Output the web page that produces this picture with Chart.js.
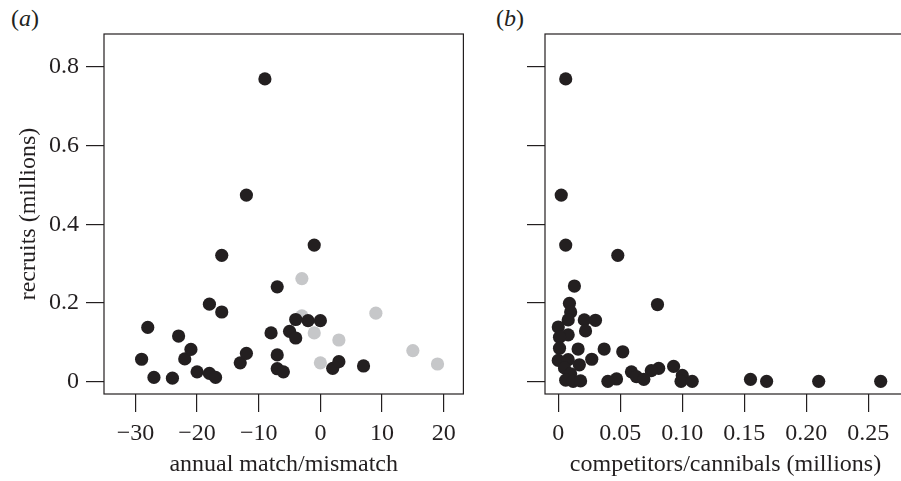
<!DOCTYPE html>
<html>
<head>
<meta charset="utf-8">
<script src="https://cdn.jsdelivr.net/npm/chart.js@4"></script>
<style>
    body { margin: 0; background: #fff; overflow: hidden; width: 901px; height: 481px; position: relative; }
    canvas { position: absolute; top: 0; }
    #chartA { left: 0; }
    #chartB { left: 470px; }
    .panel-label { position: absolute; top: 5px; font: 24px 'Liberation Serif', serif; color: #231f20; }
</style>
</head>
<body>
<div class="panel-label" style="left:11px">(<i>a</i>)</div>
<div class="panel-label" style="left:496px">(<i>b</i>)</div>
<canvas id="chartA" width="470" height="481"></canvas>
<canvas id="chartB" width="470" height="481"></canvas>
<script>
// (a) recruits against annual match/mismatch
const matchBlack = [-29, -28, -27, -24, -23, -22, -21, -20, -18, -18, -17, -16, -16, -13, -12, -12, -9, -8, -7, -7, -7, -6, -5, -4, -4, -2, -1, 0, 2, 3, 7];
const recruitsBlack = [0.057, 0.138, 0.011, 0.009, 0.116, 0.058, 0.082, 0.025, 0.197, 0.021, 0.011, 0.321, 0.177, 0.048, 0.072, 0.474, 0.769, 0.124, 0.241, 0.068, 0.033, 0.025, 0.128, 0.111, 0.158, 0.155, 0.347, 0.155, 0.034, 0.051, 0.040];
const matchGrey = [-3, -3, -1, 0, 3, 9, 15, 19];
const recruitsGrey = [0.262, 0.167, 0.124, 0.048, 0.106, 0.174, 0.079, 0.045];

// (b) recruits against competitors/cannibals
const competitors = [0.006, 0.0024, 0.006, 0.048, 0.013, 0.080, 0.009, 0.010, 0.008, 0.021, 0.030, 0.000, 0.022, 0.008, 0.001, 0.001, 0.016, 0.037, 0.052, 0.027, 0.000, 0.008, 0.017, 0.005, 0.010, 0.093, 0.081, 0.075, 0.059, 0.063, 0.069, 0.047, 0.040, 0.100, 0.099, 0.108, 0.155, 0.168, 0.210, 0.260, 0.006, 0.012, 0.018];
const recruitsB = [0.769, 0.474, 0.347, 0.321, 0.243, 0.196, 0.199, 0.177, 0.157, 0.157, 0.156, 0.139, 0.129, 0.119, 0.113, 0.085, 0.083, 0.083, 0.076, 0.057, 0.054, 0.056, 0.043, 0.035, 0.020, 0.039, 0.034, 0.028, 0.025, 0.013, 0.006, 0.007, 0.001, 0.016, 0.001, 0.001, 0.006, 0.001, 0.001, 0.001, 0.004, 0.001, 0.002];

// axis ticks
const yTicks = [0, 0.2, 0.4, 0.6, 0.8];
const yTickLabels = ['0', '0.2', '0.4', '0.6', '0.8'];
const xTicksA = [-30, -20, -10, 0, 10, 20];
const xTickLabelsA = ['\u221230', '\u221220', '\u221210', '0', '10', '20'];
const xTicksB = [0, 0.05, 0.10, 0.15, 0.20, 0.25];
const xTickLabelsB = ['0', '0.05', '0.10', '0.15', '0.20', '0.25'];

const ink = '#231f20';
const greyDot = '#c6c7c9';
const serif = "'Liberation Serif', 'Times New Roman', serif";

const zip = (xs, ys) => xs.map((x, i) => ({ x: x, y: ys[i] }));

// frame around the plotting region
const framePlugin = {
    id: 'frame',
    afterDraw(chart) {
        const a = chart.chartArea;
        const ctx = chart.ctx;
        ctx.save();
        ctx.strokeStyle = ink;
        ctx.lineWidth = 1.2;
        ctx.strokeRect(a.left, a.top, a.right - a.left, a.bottom - a.top);
        ctx.restore();
    }
};

function axis(opts) {
    return {
        type: 'linear',
        position: opts.position,
        min: opts.min,
        max: opts.max,
        afterBuildTicks: scale => { scale.ticks = opts.ticks.map(v => ({ value: v })); },
        afterFit: scale => {
            if (opts.width !== undefined) scale.width = opts.width;
            if (opts.height !== undefined) scale.height = opts.height;
        },
        border: { display: false },
        grid: { drawOnChartArea: false, drawTicks: true, tickLength: 18, color: ink, lineWidth: 1.2 },
        ticks: {
            display: opts.showLabels,
            padding: 7,
            color: ink,
            font: { family: serif, size: 24 },
            maxRotation: 0,
            autoSkip: false,
            callback: (v, i) => opts.labels[i]
        },
        title: {
            display: !!opts.title,
            text: opts.title,
            color: ink,
            font: { family: serif, size: 24 },
            padding: opts.titlePadding
        }
    };
}

function makeChart(id, datasets, xOpts, yOpts, padRight) {
    return new Chart(document.getElementById(id), {
        type: 'scatter',
        data: { datasets: datasets },
        options: {
            responsive: false,
            animation: false,
            events: [],
            layout: { padding: { top: 34, right: padRight, left: 0, bottom: 0 } },
            plugins: { legend: { display: false }, tooltip: { enabled: false } },
            scales: { x: axis(xOpts), y: axis(yOpts) }
        },
        plugins: [framePlugin]
    });
}

const dot = { pointRadius: 6.6, pointBorderWidth: 0, showLine: false };

makeChart('chartA', [
    Object.assign({ data: zip(matchBlack, recruitsBlack), backgroundColor: ink, order: 1 }, dot),
    Object.assign({ data: zip(matchGrey, recruitsGrey), backgroundColor: greyDot, order: 2 }, dot)
], {
    position: 'bottom', min: -35.1, max: 23.2, ticks: xTicksA, labels: xTickLabelsA,
    showLabels: true, height: 87, title: 'annual match/mismatch', titlePadding: { top: 0, bottom: 2 }
}, {
    position: 'left', min: -0.0312, max: 0.8831, ticks: yTicks, labels: yTickLabels,
    showLabels: true, width: 104, title: 'recruits (millions)', titlePadding: { top: 14, bottom: 0 }
}, 4);

makeChart('chartB', [
    Object.assign({ data: zip(competitors, recruitsB), backgroundColor: ink }, dot)
], {
    position: 'bottom', min: -0.0107, max: 0.2804, ticks: xTicksB, labels: xTickLabelsB,
    showLabels: true, height: 87, title: 'competitors/cannibals (millions)', titlePadding: { top: 0, bottom: 2 }
}, {
    position: 'left', min: -0.0312, max: 0.8831, ticks: yTicks, labels: yTickLabels,
    showLabels: false, width: 75
}, 34);
</script>
</body>
</html>
